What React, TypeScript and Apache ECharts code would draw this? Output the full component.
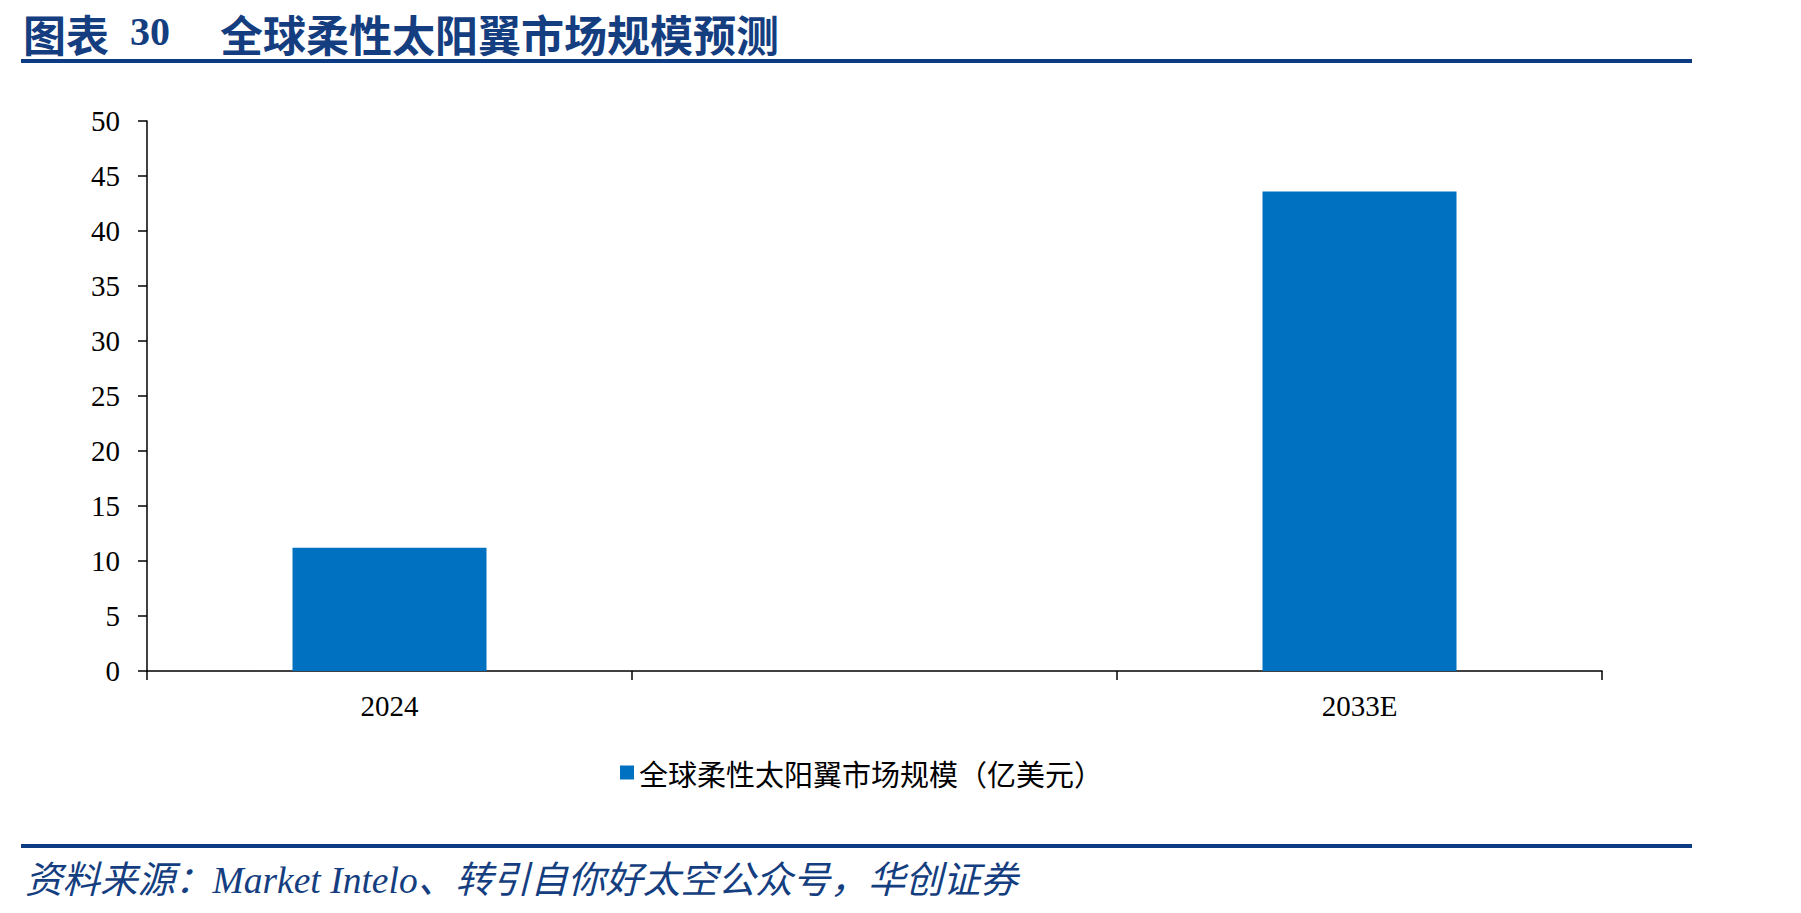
import React, { useEffect, useRef } from "react";
import * as echarts from "echarts";

const titlePrefix = "图表";
const titleNumber = "30";
const titleText = "全球柔性太阳翼市场规模预测";
const sourceText = "资料来源：Market Intelo、转引自你好太空公众号，华创证券";
const seriesName = "全球柔性太阳翼市场规模（亿美元）";
const categories = ["2024", "", "2033E"];
const values: (number | null)[] = [11.2, null, 43.6];
const yTicks = { min: 0, max: 50, interval: 5 };

const NAVY = "#143E80";
const RULE = "#0D3C85";
const BAR = "#0070C0";

export default function App() {
  const ref = useRef<HTMLDivElement>(null);
  useEffect(() => {
    if (!ref.current) return;
    const chart = echarts.init(ref.current, null, { renderer: "svg" });
    chart.setOption({
      animation: false,
      backgroundColor: "#ffffff",
      grid: { left: 147, right: 199, top: 121, height: 550, containLabel: false },
      legend: {
        show: true,
        left: 620,
        top: 758,
        padding: 0,
        icon: "rect",
        itemWidth: 14,
        itemHeight: 14,
        itemGap: 8,
        textStyle: { fontFamily: "Noto Sans CJK SC", fontSize: 29, color: "#000" },
        data: [seriesName],
      },
      xAxis: {
        type: "category",
        data: categories,
        boundaryGap: true,
        axisLine: { lineStyle: { color: "#000", width: 1.5 } },
        axisTick: { show: true, inside: false, length: 9, lineStyle: { color: "#000", width: 1.5 } },
        axisLabel: { margin: 20, fontFamily: "Liberation Serif", fontSize: 29, color: "#000" },
        splitLine: { show: false },
      },
      yAxis: {
        type: "value",
        min: yTicks.min,
        max: yTicks.max,
        interval: yTicks.interval,
        axisLine: { show: true, lineStyle: { color: "#000", width: 1.5 } },
        axisTick: { show: true, inside: false, length: 9, lineStyle: { color: "#000", width: 1.5 } },
        axisLabel: { margin: 27, fontFamily: "Liberation Serif", fontSize: 29, color: "#000" },
        splitLine: { show: false },
      },
      series: [
        {
          name: seriesName,
          type: "bar",
          data: values,
          barWidth: "40%",
          itemStyle: { color: BAR },
        },
      ],
      graphic: [
        {
          type: "text",
          left: 23,
          top: 11,
          style: { text: titlePrefix, font: "bold 43px 'Noto Sans CJK SC'", fill: NAVY },
        },
        {
          type: "text",
          left: 130,
          top: 11,
          style: { text: titleNumber, font: "bold 40px 'Liberation Serif'", fill: NAVY },
        },
        {
          type: "text",
          left: 220,
          top: 11,
          style: { text: titleText, font: "bold 43px 'Noto Sans CJK SC'", fill: NAVY },
        },
        {
          type: "rect",
          shape: { x: 21, y: 59, width: 1671, height: 4 },
          style: { fill: RULE },
        },
        {
          type: "rect",
          shape: { x: 21, y: 844, width: 1671, height: 4 },
          style: { fill: RULE },
        },
        {
          type: "text",
          left: 25,
          top: 862,
          style: { text: sourceText, font: "italic 37.5px 'Liberation Serif', 'Noto Sans CJK SC'", fill: NAVY },
        },
      ],
    });
    return () => chart.dispose();
  }, []);
  return (
    <div
      ref={ref}
      style={{ position: "fixed", left: 0, top: 0, width: 1801, height: 913 }}
    />
  );
}
